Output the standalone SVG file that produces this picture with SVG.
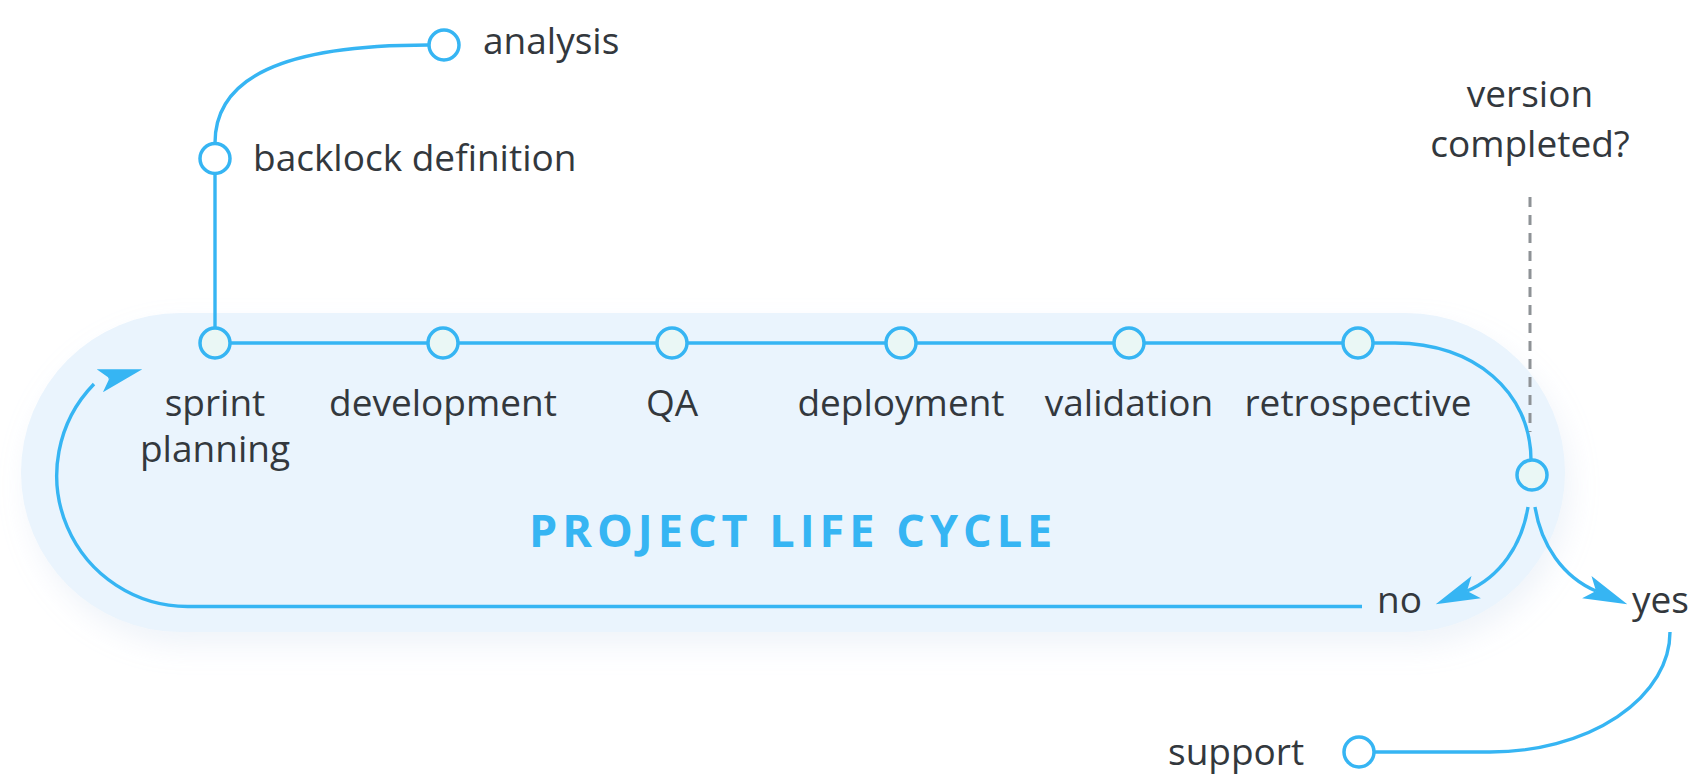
<svg xmlns="http://www.w3.org/2000/svg" width="1692" height="780" viewBox="0 0 1692 780">
  <defs>
    <filter id="soft" x="-10%" y="-20%" width="120%" height="150%">
      <feDropShadow dx="6" dy="14" stdDeviation="14" flood-color="#b9cde6" flood-opacity="0.22"/>
    </filter>
    <marker id="arrow" markerUnits="userSpaceOnUse" markerWidth="50" markerHeight="30" viewBox="-10 -15 50 30" refX="0" refY="0" orient="auto" overflow="visible">
      <path d="M-10,-12 L34,0 L-10,12 L0,0 Z" fill="#36b5f3"/>
    </marker>
  </defs>
  <style>
    .lbl { font-family: "Open Sans", "Liberation Sans", sans-serif; font-size: 37px; fill: #33383d; }
    .mid { text-anchor: middle; }
    .title { font-family: "Open Sans", "Liberation Sans", sans-serif; font-size: 45px; font-weight: 700; fill: #36b5f3; letter-spacing: 5px; }
    .conn { fill: none; stroke: #36b5f3; stroke-width: 3.4; }
    .dash { fill: none; stroke: #8e9296; stroke-width: 3; stroke-dasharray: 10 8; }
    .node { stroke: #36b5f3; stroke-width: 3.5; fill: #eaf7f5; }
    .node-out { stroke: #36b5f3; stroke-width: 3.5; fill: #ffffff; }
  </style>

  <rect width="1692" height="780" fill="#ffffff"/>

  <g id="lifecycle-area">
    <rect x="21" y="313" width="1544" height="319" rx="159.5" ry="159.5" fill="#eaf4fd" filter="url(#soft)"/>
    <text class="title" x="529" y="547">PROJECT LIFE CYCLE</text>
  </g>

  <g id="connectors">
    <path class="conn" d="M215,143 C215,78 282,45 428,45"/>
    <path class="conn" d="M215,174 L215,343"/>
    <path class="conn" d="M215,343 L1395,343 C1474,343 1531,392 1531,460"/>
    <path class="dash" d="M1530,197 L1530,432"/>
    <path class="conn" d="M1528,507 C1522,545 1500,577 1467,591" marker-end="url(#arrow)"/>
    <path class="conn" d="M1535,507 C1541,545 1563,577 1596,591" marker-end="url(#arrow)"/>
    <path class="conn" d="M1362,606.5 L189,606.5 A131,131 0 0 1 94,384 M108.5,378.4 l0.97,-0.26" marker-end="url(#arrow)"/>
    <path class="conn" d="M1670,632 A180,120 0 0 1 1490,752 L1374,752"/>
  </g>

  <g id="node-analysis">
    <circle class="node-out" cx="444" cy="45" r="15"/>
    <text class="lbl" x="483" y="54">analysis</text>
  </g>
  <g id="node-backlock">
    <circle class="node-out" cx="215" cy="158.5" r="15"/>
    <text class="lbl" x="253" y="171">backlock definition</text>
  </g>
  <g id="node-sprint-planning">
    <circle class="node" cx="215" cy="343" r="15"/>
    <text class="lbl mid" x="215" y="416">sprint</text>
    <text class="lbl mid" x="215" y="462">planning</text>
  </g>
  <g id="node-development">
    <circle class="node" cx="443" cy="343" r="15"/>
    <text class="lbl mid" x="443" y="416">development</text>
  </g>
  <g id="node-qa">
    <circle class="node" cx="672" cy="343" r="15"/>
    <text class="lbl mid" x="672" y="416">QA</text>
  </g>
  <g id="node-deployment">
    <circle class="node" cx="901" cy="343" r="15"/>
    <text class="lbl mid" x="901" y="416">deployment</text>
  </g>
  <g id="node-validation">
    <circle class="node" cx="1129" cy="343" r="15"/>
    <text class="lbl mid" x="1129" y="416">validation</text>
  </g>
  <g id="node-retrospective">
    <circle class="node" cx="1358" cy="343" r="15"/>
    <text class="lbl mid" x="1358" y="416">retrospective</text>
  </g>
  <g id="node-decision">
    <circle class="node" cx="1532" cy="475" r="15"/>
    <text class="lbl mid" x="1530" y="107">version</text>
    <text class="lbl mid" x="1530" y="157">completed?</text>
  </g>
  <g id="label-no">
    <text class="lbl" x="1377" y="613">no</text>
  </g>
  <g id="label-yes">
    <text class="lbl" x="1632" y="613">yes</text>
  </g>
  <g id="node-support">
    <circle class="node-out" cx="1359" cy="752" r="15"/>
    <text class="lbl" x="1168" y="765">support</text>
  </g>
</svg>
